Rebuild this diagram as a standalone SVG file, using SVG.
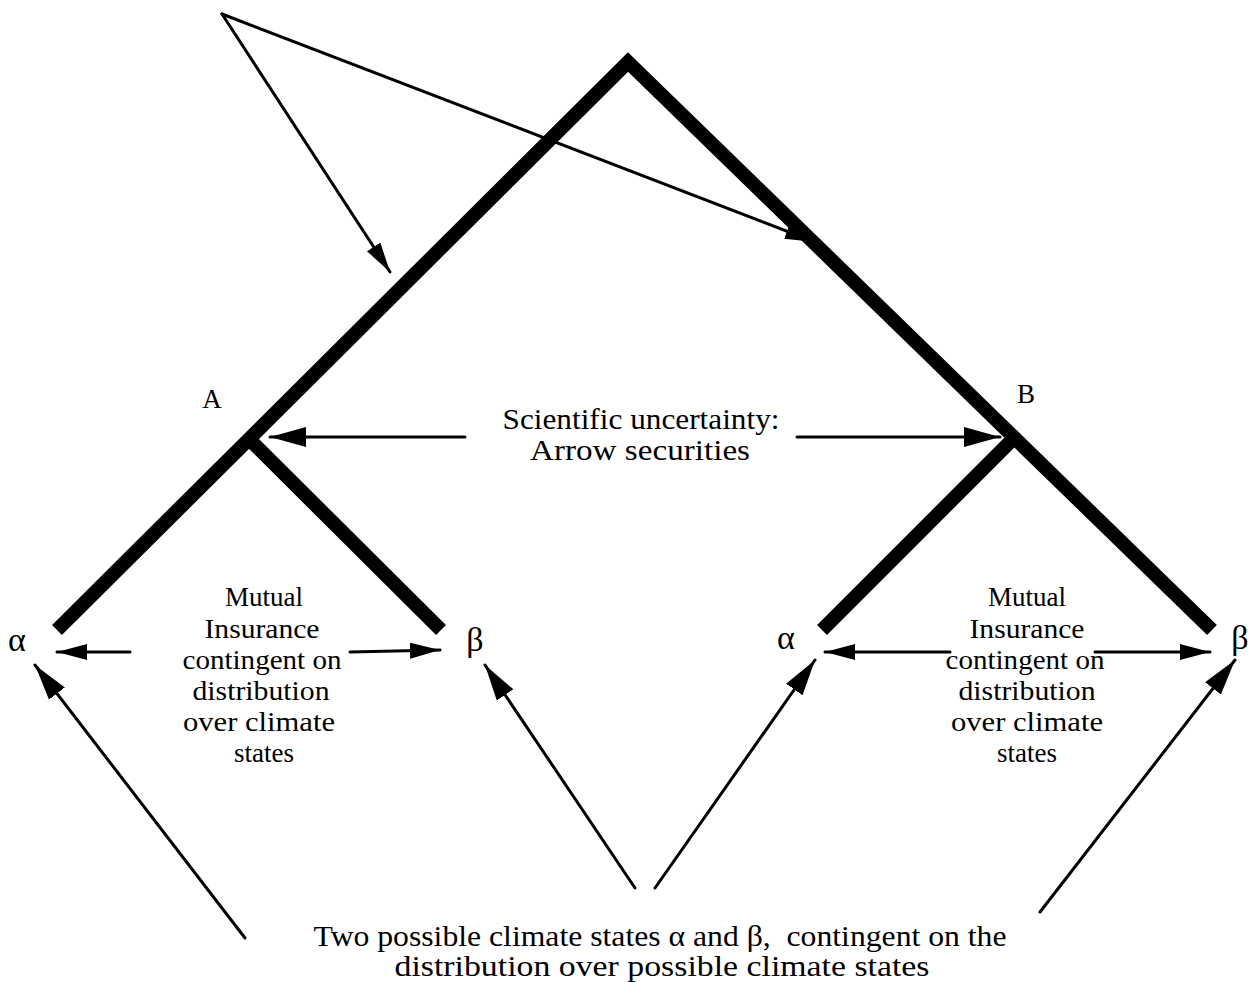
<svg xmlns="http://www.w3.org/2000/svg" width="1248" height="982" viewBox="0 0 1248 982">
<style>
.t{font-family:"Liberation Serif","Times New Roman",serif;font-size:27px;fill:#000;text-anchor:middle}
.big{font-size:29px}
.g{font-size:34px}
.tree{fill:none;stroke:#000;stroke-width:14;stroke-linejoin:miter;stroke-linecap:butt}
.a{fill:none;stroke:#000;stroke-width:3;stroke-linecap:round}
</style>
<defs>
<marker id="ah" markerUnits="userSpaceOnUse" markerWidth="40" markerHeight="22" refX="36" refY="10" orient="auto">
<path d="M0,0 L36,10 L0,20 Z" fill="#000"/>
</marker>
<marker id="ahs" markerUnits="userSpaceOnUse" markerWidth="34" markerHeight="18" refX="30" refY="8" orient="auto">
<path d="M0,0 L30,8 L0,16 Z" fill="#000"/>
</marker>
</defs>
<g id="tree">
<polyline class="tree" points="57,630 628,62 1212,630"/>
<line class="tree" x1="252" y1="442" x2="441" y2="630"/>
<line class="tree" x1="1012" y1="440" x2="822" y2="630"/>
</g>
<g id="node-A"><text class="t" x="212" y="408" font-size="25">A</text></g>
<g id="node-B"><text class="t" x="1026" y="403" font-size="25">B</text></g>
<g id="label-scientific">
<text class="t big" x="641" y="429" textLength="277" lengthAdjust="spacingAndGlyphs">Scientific uncertainty:</text>
<text class="t big" x="640" y="460" textLength="220" lengthAdjust="spacingAndGlyphs">Arrow securities</text>
</g>
<g id="node-alpha-A"><text class="t g" x="17" y="651">α</text></g>
<g id="node-beta-A"><text class="t g" x="475" y="651">β</text></g>
<g id="node-alpha-B"><text class="t g" x="786" y="649">α</text></g>
<g id="node-beta-B"><text class="t g" x="1240" y="649">β</text></g>
<g id="label-mutual-A">
<text class="t" x="264" y="606">Mutual</text>
<text class="t" x="262" y="638" textLength="115" lengthAdjust="spacingAndGlyphs">Insurance</text>
<text class="t" x="262" y="669" textLength="159" lengthAdjust="spacingAndGlyphs">contingent on</text>
<text class="t" x="261" y="700" textLength="137" lengthAdjust="spacingAndGlyphs">distribution</text>
<text class="t" x="259" y="731" textLength="152" lengthAdjust="spacingAndGlyphs">over climate</text>
<text class="t" x="264" y="762">states</text>
</g>
<g id="label-mutual-B">
<text class="t" x="1027" y="606">Mutual</text>
<text class="t" x="1027" y="638" textLength="115" lengthAdjust="spacingAndGlyphs">Insurance</text>
<text class="t" x="1025" y="669" textLength="159" lengthAdjust="spacingAndGlyphs">contingent on</text>
<text class="t" x="1027" y="700" textLength="137" lengthAdjust="spacingAndGlyphs">distribution</text>
<text class="t" x="1027" y="731" textLength="152" lengthAdjust="spacingAndGlyphs">over climate</text>
<text class="t" x="1027" y="762">states</text>
</g>
<g id="label-bottom">
<text class="t big" x="660" y="946" textLength="693" lengthAdjust="spacingAndGlyphs" xml:space="preserve">Two possible climate states α and β,  contingent on the</text>
<text class="t big" x="662" y="976" textLength="535" lengthAdjust="spacingAndGlyphs">distribution over possible climate states</text>
</g>
<g id="connectors">
<line class="a" x1="222" y1="14" x2="390" y2="272" marker-end="url(#ahs)"/>
<line class="a" x1="222" y1="14" x2="815" y2="242" marker-end="url(#ahs)"/>
<line class="a" x1="465" y1="437" x2="270" y2="437" marker-end="url(#ah)"/>
<line class="a" x1="797" y1="437" x2="1000" y2="437" marker-end="url(#ah)"/>
<line class="a" x1="130" y1="652" x2="57" y2="652" marker-end="url(#ahs)"/>
<line class="a" x1="350" y1="652" x2="440" y2="650" marker-end="url(#ahs)"/>
<line class="a" x1="950" y1="652" x2="825" y2="652" marker-end="url(#ahs)"/>
<line class="a" x1="1095" y1="652" x2="1210" y2="652" marker-end="url(#ahs)"/>
<line class="a" x1="245" y1="938" x2="35" y2="665" marker-end="url(#ah)"/>
<line class="a" x1="635" y1="888" x2="485" y2="665" marker-end="url(#ah)"/>
<line class="a" x1="655" y1="888" x2="815" y2="660" marker-end="url(#ah)"/>
<line class="a" x1="1040" y1="912" x2="1235" y2="660" marker-end="url(#ah)"/>
</g>
</svg>
